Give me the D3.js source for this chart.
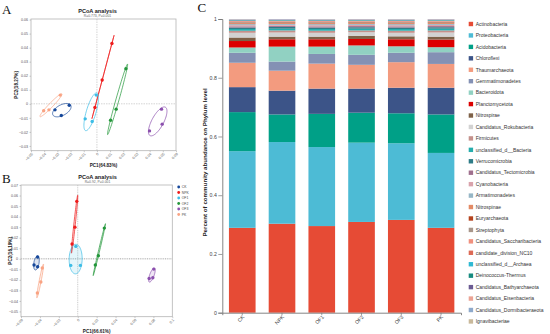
<!DOCTYPE html>
<html>
<head>
<meta charset="utf-8">
<script src="https://cdn.jsdelivr.net/npm/d3@7"></script>
<style>
  body { margin: 0; background: #fff; }
  svg { display: block; font-family: Arial, "Liberation Sans", sans-serif; }
</style>
</head>
<body>
<svg id="fig" width="550" height="334"></svg>
<script>
// ---- data ----
const groups = ["CK", "NPK", "OF1", "OF2", "OF3", "PK"];
const groupColors = ["#15479a", "#ee1c1c", "#3dbde6", "#23963a", "#8b4fae", "#f9a383"];

// three replicates per group, same order as sampleGroup
const sampleGroup = ["CK", "CK", "CK", "NPK", "NPK", "NPK", "OF1", "OF1", "OF1",
                     "OF2", "OF2", "OF2", "OF3", "OF3", "OF3", "PK", "PK", "PK"];

// panel A
const pcoaA_pc1 = [-0.021, -0.0318, -0.027, 0.0114, 0.004, -0.0015, -0.0005, -0.0089, -0.0036,
                   0.022, 0.0146, 0.0104, 0.049, 0.0495, 0.0399, -0.0278, -0.0364, -0.0404];
const pcoaA_pc2 = [-0.001, -0.0043, -0.0083, 0.043, 0.017, -0.0026, 0.0062, -0.0107, -0.0126,
                   0.025, -0.0038, -0.0117, -0.0038, -0.0145, -0.0193, 0.0062, -0.0043, -0.005];
const ticksA_x = [-0.05, -0.04, -0.03, -0.02, -0.01, 0, 0.01, 0.02, 0.03, 0.04, 0.05, 0.06];
const ticksA_y = [-0.03, -0.02, -0.01, 0, 0.01, 0.02, 0.03, 0.04, 0.05, 0.06];

// panel B
const pcoaB_pc1 = [-0.0424, -0.0462, -0.0424, -0.001, -0.003, -0.006, -0.002, -0.0074, 0.0028,
                   0.0281, 0.0218, 0.0186, 0.0804, 0.0794, 0.0755, -0.0375, -0.039, -0.0427];
const pcoaB_pc2 = [0.0016, -0.006, -0.0076, 0.0545, 0.030, 0.014, 0.0117, -0.0063, -0.0063,
                   0.0291, 0.0028, -0.006, -0.0098, -0.018, -0.0187, -0.0088, -0.022, -0.0325];
const ticksB_x = [-0.06, -0.04, -0.02, 0, 0.02, 0.04, 0.06, 0.08, 0.1];
const ticksB_y = [-0.05, -0.04, -0.03, -0.02, -0.01, 0, 0.01, 0.02, 0.03, 0.04, 0.05, 0.06, 0.07];

// panel C
const phyla = ["Actinobacteria", "Proteobacteria", "Acidobacteria", "Chloroflexi", "Thaumarchaeota",
  "Gemmatimonadetes", "Bacteroidota", "Planctomycetota", "Nitrospirae", "Candidatus_Rokubacteria",
  "Firmicutes", "unclassified_d__Bacteria", "Verrucomicrobia", "Candidatus_Tectomicrobia",
  "Cyanobacteria", "Armatimonadetes", "Nitrospinae", "Euryarchaeota", "Streptophyta",
  "Candidatus_Saccharibacteria", "candidate_division_NC10", "unclassified_d__Archaea",
  "Deinococcus-Thermus", "Candidatus_Bathyarchaeota", "Candidatus_Eisenbacteria",
  "Candidatus_Dormibacteraeota", "Ignavibacteriae"];
const phylumColors = ["#E64B35", "#4DBBD5", "#00A087", "#3C5488", "#F39B7F", "#8491B4", "#91D1C2",
  "#DC0000", "#7E6148", "#D2D2D2", "#C4918C", "#26ADAD", "#2E7C87", "#A0708E", "#D9A3AC", "#96B6C6",
  "#E38A65", "#B5441F", "#A8968A", "#F0907E", "#DD6A55", "#2FB9D3", "#178B7F", "#6B5B92", "#EBA394",
  "#8EA9CB", "#C9B99B"];
const abundCK  = [0.289, 0.261, 0.133, 0.085, 0.083, 0.034, 0.018, 0.022, 0.012, 0.016, 0.007, 0.006, 0.005, 0.004, 0.004, 0.0035, 0.003, 0.0025, 0.002, 0.0018, 0.0016, 0.0014, 0.0012, 0.001, 0.001, 0.0015, 0.0008];
const abundNPK = [0.303, 0.278, 0.094, 0.081, 0.068, 0.031, 0.051, 0.025, 0.009, 0.014, 0.007, 0.006, 0.006, 0.004, 0.003, 0.003, 0.003, 0.0025, 0.002, 0.0018, 0.0016, 0.0014, 0.0012, 0.001, 0.001, 0.0015, 0.0008];
const abundOF1 = [0.295, 0.269, 0.113, 0.086, 0.085, 0.033, 0.025, 0.025, 0.009, 0.013, 0.007, 0.006, 0.005, 0.004, 0.004, 0.0035, 0.003, 0.0025, 0.002, 0.0018, 0.0016, 0.0014, 0.0012, 0.001, 0.001, 0.0015, 0.0008];
const abundOF2 = [0.309, 0.270, 0.102, 0.082, 0.081, 0.034, 0.032, 0.022, 0.011, 0.012, 0.006, 0.006, 0.005, 0.004, 0.004, 0.003, 0.003, 0.0025, 0.002, 0.0018, 0.0016, 0.0014, 0.0012, 0.001, 0.001, 0.0012, 0.0008];
const abundOF3 = [0.316, 0.261, 0.102, 0.087, 0.087, 0.032, 0.022, 0.024, 0.010, 0.012, 0.007, 0.006, 0.005, 0.004, 0.004, 0.0035, 0.003, 0.0025, 0.002, 0.0018, 0.0016, 0.0014, 0.0012, 0.001, 0.001, 0.0015, 0.0008];
const abundPK  = [0.289, 0.255, 0.131, 0.091, 0.081, 0.040, 0.017, 0.026, 0.010, 0.014, 0.007, 0.006, 0.005, 0.004, 0.004, 0.003, 0.003, 0.0025, 0.002, 0.0018, 0.0016, 0.0014, 0.0012, 0.001, 0.001, 0.0012, 0.0008];
const barTicks = [0, 0.2, 0.4, 0.6, 0.8, 1];

// ---- helpers ----
const svg = d3.select("#fig");
const color = d3.scaleOrdinal().domain(groups).range(groupColors);

// covariance ellipse of a group's points, k = scale on sd
function ellipse(pts, k) {
    let n = pts.length;
    let mx = d3.mean(pts, d => d[0]), my = d3.mean(pts, d => d[1]);
    let a = d3.sum(pts, d => (d[0] - mx) ** 2) / (n - 1);
    let c = d3.sum(pts, d => (d[1] - my) ** 2) / (n - 1);
    let b = d3.sum(pts, d => (d[0] - mx) * (d[1] - my)) / (n - 1);
    let h = Math.sqrt(((a - c) / 2) ** 2 + b * b);
    let l1 = (a + c) / 2 + h, l2 = Math.max((a + c) / 2 - h, 0);
    let th = 0.5 * Math.atan2(2 * b, a - c);
    let out = [];
    for (let i = 0; i < 72; i++) {
        let t = i / 72 * 2 * Math.PI;
        let u = k * Math.sqrt(l1) * Math.cos(t), v = k * Math.sqrt(l2) * Math.sin(t);
        out.push([mx + u * Math.cos(th) - v * Math.sin(th), my + u * Math.sin(th) + v * Math.cos(th)]);
    }
    return out;
}

function pcoaPanel(opt) {
    let g = svg.append("g");
    let x = d3.scaleLinear().domain(opt.xDomain).range(opt.xRange);
    let y = d3.scaleLinear().domain(opt.yDomain).range(opt.yRange);

    // frame
    g.append("rect")
        .attr("x", opt.xRange[0]).attr("y", opt.yRange[1])
        .attr("width", opt.xRange[1] - opt.xRange[0])
        .attr("height", opt.yRange[0] - opt.yRange[1])
        .attr("fill", "none").attr("stroke", "#b4b4b4").attr("stroke-width", 0.8);

    // zero lines
    g.append("line")
        .attr("x1", x(0)).attr("x2", x(0)).attr("y1", opt.yRange[1]).attr("y2", opt.yRange[0])
        .attr("stroke", opt.zeroColor).attr("stroke-width", opt.zeroWidth[0]).attr("stroke-dasharray", opt.zeroDash);
    g.append("line")
        .attr("x1", opt.xRange[0]).attr("x2", opt.xRange[1]).attr("y1", y(0)).attr("y2", y(0))
        .attr("stroke", opt.zeroColor).attr("stroke-width", opt.zeroWidth[1]).attr("stroke-dasharray", opt.zeroDash);

    // axes
    let ax = g.append("g").attr("transform", "translate(0," + opt.yRange[0] + ")")
        .call(d3.axisBottom(x).tickValues(opt.xTicks).tickSize(1.5).tickPadding(1).tickFormat(d3.format("")));
    ax.selectAll("text")
        .attr("font-size", 3.6).attr("fill", "#555")
        .attr("text-anchor", "end").attr("dy", "0.5em")
        .attr("transform", "rotate(-45)")
        .attr("x", -1.5).attr("y", 2);
    let ay = g.append("g").attr("transform", "translate(" + opt.xRange[0] + ",0)")
        .call(d3.axisLeft(y).tickValues(opt.yTicks).tickSize(1.5).tickPadding(1.5).tickFormat(d3.format("")));
    ay.selectAll("text").attr("font-size", 3.6).attr("fill", "#555");
    g.selectAll(".domain").remove();
    g.selectAll(".tick line").attr("stroke", "#999").attr("stroke-width", 0.5);

    // ellipses and points
    let pts = sampleGroup.map((s, i) => ({ group: s, pc1: opt.pc1[i], pc2: opt.pc2[i] }));
    let line = d3.line().x(d => x(d[0])).y(d => y(d[1])).curve(d3.curveLinearClosed);
    groups.forEach(gr => {
        let sub = pts.filter(d => d.group === gr).map(d => [d.pc1, d.pc2]);
        g.append("path")
            .attr("d", line(ellipse(sub, opt.k)))
            .attr("fill", color(gr)).attr("fill-opacity", opt.fillOpacity)
            .attr("stroke", color(gr)).attr("stroke-width", 0.7);
    });
    g.selectAll("circle.pt")
        .data(pts)
        .enter()
        .append("circle")
        .attr("class", "pt")
        .attr("cx", d => x(d.pc1)).attr("cy", d => y(d.pc2))
        .attr("r", 1.7)
        .attr("fill", d => color(d.group));

    // titles
    g.append("text").attr("x", opt.titleX).attr("y", opt.titleY).attr("text-anchor", "middle")
        .attr("font-size", 5.6).attr("font-weight", "bold").attr("fill", "#222").text("PCoA analysis");
    g.append("text").attr("x", opt.titleX).attr("y", opt.titleY + 4.6).attr("text-anchor", "middle")
        .attr("font-size", 3.4).attr("fill", "#666").text(opt.subtitle);
    g.append("text").attr("x", (opt.xRange[0] + opt.xRange[1]) / 2).attr("y", opt.xLabelY)
        .attr("text-anchor", "middle").attr("font-size", 4.6).attr("font-weight", "bold").attr("fill", "#222")
        .text(opt.xLabel);
    g.append("text")
        .attr("transform", "translate(" + opt.yLabelX + "," + (opt.yRange[0] + opt.yRange[1]) / 2 + ") rotate(-90)")
        .attr("text-anchor", "middle").attr("font-size", 4.6).attr("font-weight", "bold").attr("fill", "#222")
        .text(opt.yLabel);
    g.append("text").attr("x", 2).attr("y", opt.letterY)
        .attr("font-family", "'Liberation Serif', 'Times New Roman', serif").attr("font-size", 13)
        .attr("fill", "#111").text(opt.letter);
    return g;
}

// ---- panel A ----
pcoaPanel({
    letter: "A", letterY: 13.5,
    xDomain: [-0.05, 0.06], xRange: [31, 176],
    yDomain: [-0.0334, 0.0604], yRange: [150.7, 19],
    xTicks: ticksA_x, yTicks: ticksA_y,
    pc1: pcoaA_pc1, pc2: pcoaA_pc2, k: 1.3, fillOpacity: 0,
    zeroColor: "#aaa", zeroWidth: [0.5, 0.5], zeroDash: "1.5,1",
    titleX: 97.5, titleY: 12.5, subtitle: "R=0.773, P=0.001",
    xLabel: "PC1(64.83%)", xLabelY: 167, yLabel: "PC2(18.27%)", yLabelX: 17.5
});

// ---- panel B ----
let gB = pcoaPanel({
    letter: "B", letterY: 182.5,
    xDomain: [-0.06, 0.1], xRange: [21, 172.3],
    yDomain: [-0.055, 0.07], yRange: [316.7, 185],
    xTicks: ticksB_x, yTicks: ticksB_y,
    pc1: pcoaB_pc1, pc2: pcoaB_pc2, k: 1.35, fillOpacity: 0.14,
    zeroColor: "#c4c4c4", zeroWidth: [0.9, 1.6], zeroDash: "1,0.8",
    titleX: 97.5, titleY: 178.5, subtitle: "R=0.92, P=0.001",
    xLabel: "PC1(66.61%)", xLabelY: 332.5, yLabel: "PC2(16.19%)", yLabelX: 11.5
});

// legend of B
let legB = gB.append("g").attr("transform", "translate(178.7,187)");
let legItem = legB.selectAll("g").data(groups).enter().append("g")
    .attr("transform", (d, i) => "translate(0," + i * 5.5 + ")");
legItem.append("circle").attr("r", 1.4).attr("fill", d => color(d));
legItem.append("text").attr("x", 3).attr("dy", "0.35em").attr("font-size", 3.4).attr("fill", "#444").text(d => d);

// ---- panel C ----
let gC = svg.append("g");
let samples = [abundCK, abundNPK, abundOF1, abundOF2, abundOF3, abundPK];
let table = groups.map((s, i) => {
    let row = { sample: s };
    phyla.forEach((p, j) => { row[p] = samples[i][j]; });
    return row;
});
let stack = d3.stack().keys(phyla)(table);

let xC = d3.scaleBand().domain(groups).range([222.3, 461]).paddingInner(0.33).paddingOuter(0.167);
let yC = d3.scaleLinear().domain([0, 1]).range([312.7, 19]);
let colC = d3.scaleOrdinal().domain(phyla).range(phylumColors);

gC.selectAll("g.layer")
    .data(stack)
    .enter()
    .append("g")
    .attr("class", "layer")
    .attr("fill", d => colC(d.key))
    .selectAll("rect")
    .data(d => d)
    .enter()
    .append("rect")
    .attr("x", d => xC(d.data.sample))
    .attr("width", xC.bandwidth())
    .attr("y", d => yC(Math.min(d[1], 1)))
    .attr("height", d => Math.max(0, yC(d[0]) - yC(Math.min(d[1], 1))));

let axC = gC.append("g").attr("transform", "translate(0,312.7)")
    .call(d3.axisBottom(xC).tickSize(2.5).tickPadding(1.5));
axC.selectAll("text")
    .attr("font-size", 5.2).attr("fill", "#444")
    .attr("text-anchor", "end").attr("transform", "rotate(-45)")
    .attr("x", -1.5).attr("y", 3).attr("dy", "0.4em");
let ayC = gC.append("g").attr("transform", "translate(222.3,0)")
    .call(d3.axisLeft(yC).tickValues(barTicks).tickSize(4).tickPadding(1.5).tickFormat(d3.format("")));
ayC.selectAll("text").attr("font-size", 5.2).attr("fill", "#444");
gC.selectAll(".domain").attr("stroke", "#777").attr("stroke-width", 0.9);
gC.selectAll(".tick line").attr("stroke", "#777").attr("stroke-width", 0.7);

gC.append("text")
    .attr("transform", "translate(207.3,162.5) rotate(-90)")
    .attr("text-anchor", "middle").attr("font-size", 6.2).attr("font-weight", "bold").attr("fill", "#222")
    .text("Percent of community abundance on Phylum level");

gC.append("text").attr("x", 197.5).attr("y", 12.3)
    .attr("font-family", "'Liberation Serif', 'Times New Roman', serif").attr("font-size", 13)
    .attr("fill", "#111").text("C");

// legend of C
let legC = gC.append("g").attr("transform", "translate(468.7,24)");
let itemC = legC.selectAll("g").data(phyla).enter().append("g")
    .attr("transform", (d, i) => "translate(0," + i * 11.44 + ")");
itemC.append("rect").attr("x", 0).attr("y", -2.2).attr("width", 4.4).attr("height", 4.4)
    .attr("fill", d => colC(d));
itemC.append("text").attr("x", 7).attr("dy", "0.35em").attr("font-size", 5).attr("fill", "#333").text(d => d);
</script>
</body>
</html>
